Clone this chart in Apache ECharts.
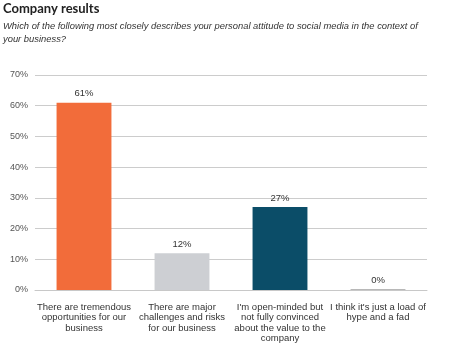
<!DOCTYPE html>
<html>
<head>
<meta charset="utf-8">
<script src="https://cdn.jsdelivr.net/npm/echarts@6/dist/echarts.min.js"></script>
<style>html,body{margin:0;padding:0;background:#fff}#c{width:450px;height:349px}</style>
</head>
<body>
<div id="c"></div>
<script>
const categories = [
  "There are tremendous\nopportunities for our\nbusiness",
  "There are major\nchallenges and risks\nfor our business",
  "I'm open-minded but\nnot fully convinced\nabout the value to the\ncompany",
  "I think it's just a load of\nhype and a fad"
];
const values = [61, 12, 27, 0];
const barColors = ["#F26C3A", "#CDCFD3", "#0B4D68", "#B8B8B8"];
const yTicks = { min: 0, max: 70, interval: 10 };

const chart = echarts.init(document.getElementById('c'));
chart.setOption({
  animation: false,
  backgroundColor: '#fff',
  title: [
    { text: 'Company results', left: 3, top: 2, padding: 0,
      textStyle: { fontFamily: 'Lato', fontWeight: 'bold', fontSize: 13, color: '#222' } },
    { text: 'Which of the following most closely describes your personal attitude to social media in the context of\nyour business?',
      left: 3, top: 20.5, padding: 0,
      textStyle: { fontFamily: 'Liberation Sans', fontStyle: 'italic', fontWeight: 'normal', fontSize: 9.4, color: '#333', lineHeight: 12.5 } }
  ],
  grid: { left: 35, right: 23, top: 75, bottom: 59, containLabel: false },
  xAxis: {
    type: 'category', data: categories,
    axisLine: { lineStyle: { color: '#c8c8c8' } },
    axisTick: { show: false },
    axisLabel: { interval: 0, margin: 12, fontFamily: 'Liberation Sans', fontSize: 9.5, lineHeight: 10.4, color: '#333' }
  },
  yAxis: {
    type: 'value', min: yTicks.min, max: yTicks.max, interval: yTicks.interval,
    axisLine: { show: false }, axisTick: { show: false },
    splitLine: { lineStyle: { color: '#cccccc' } },
    axisLabel: { formatter: '{value}%', margin: 7, fontFamily: 'Liberation Sans', fontSize: 9, color: '#555' }
  },
  series: [{
    type: 'bar',
    data: values.map((v, i) => ({ value: v, itemStyle: { color: barColors[i] } })),
    barWidth: '56%',
    barMinHeight: 1,
    label: { show: true, position: 'top', distance: 4, formatter: '{c}%', fontFamily: 'Liberation Sans', fontSize: 9.5, color: '#333' }
  }]
});
</script>
</body>
</html>
